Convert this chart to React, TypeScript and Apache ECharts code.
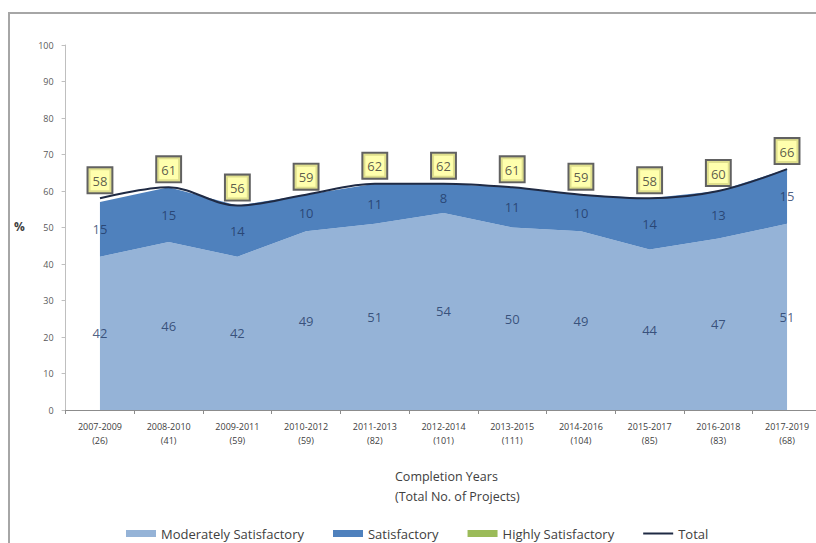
import React, { useEffect, useRef } from "react";
import * as echarts from "echarts";

// Completion-year windows and project counts (x axis)
const periods = [
  "2007-2009", "2008-2010", "2009-2011", "2010-2012", "2011-2013", "2012-2014",
  "2013-2015", "2014-2016", "2015-2017", "2016-2018", "2017-2019",
];
const projectCounts = [26, 41, 59, 59, 82, 101, 111, 104, 85, 83, 68];

// Share of projects (%) by rating
const moderatelySatisfactory = [42, 46, 42, 49, 51, 54, 50, 49, 44, 47, 51];
const satisfactory = [15, 15, 14, 10, 11, 8, 11, 10, 14, 13, 15];
const highlySatisfactory = [0, 0, 0, 0, 0, 0, 0, 0, 0, 0, 0];
const total = [58, 61, 56, 59, 62, 62, 61, 59, 58, 60, 66];

const yTicks = { min: 0, max: 100, interval: 10 };

const FONT = "'Open Sans', 'Liberation Sans', sans-serif";
const C_MS = "#95b3d7";
const C_S = "#4f81bd";
const C_HS = "#9bbb59";
const C_TOTAL = "#1f2a44";
const C_LABEL = "#1f3864";

export default function App() {
  const ref = useRef<HTMLDivElement>(null);

  useEffect(() => {
    if (!ref.current) return;
    const chart = echarts.init(ref.current, undefined, { renderer: "svg" });

    const categories = periods.map((p, i) => `${p}\n(${projectCounts[i]})`);

    // label anchors placed in the middle of each stacked band
    const msMid = moderatelySatisfactory.map((v, i) => ({ value: [i, v / 2], label: String(v) }));
    const sMid = satisfactory.map((v, i) => ({
      value: [i, moderatelySatisfactory[i] + v / 2],
      label: String(v),
    }));
    const totalPts = total.map((v, i) => ({ value: [i, v], label: String(v) }));

    const midLabel = {
      show: true,
      position: "inside",
      color: C_LABEL,
      fontSize: 13,
      fontFamily: FONT,
      formatter: (p: any) => p.data.label,
    };

    chart.setOption({
      animation: false,
      backgroundColor: "transparent",
      textStyle: { fontFamily: FONT },
      grid: { left: 65.6, right: 8.6, top: 45, bottom: 133, containLabel: false },
      legend: {
        left: 121,
        top: 522,
        itemWidth: 30,
        itemHeight: 7,
        itemGap: 29,
        textStyle: { fontSize: 13, color: "#404040", fontFamily: FONT },
        data: [
          { name: "Moderately Satisfactory", icon: "rect" },
          { name: "Satisfactory", icon: "rect" },
          { name: "Highly Satisfactory", icon: "rect" },
          { name: "Total", icon: "path://M0,0H30V2H0Z" },
        ],
      },
      xAxis: {
        type: "category",
        data: categories,
        boundaryGap: true,
        axisLine: { lineStyle: { color: "#8c8c8c", width: 1 } },
        axisTick: { show: true, length: 4, lineStyle: { color: "#8c8c8c" } },
        axisLabel: {
          color: "#404040",
          fontSize: 9,
          lineHeight: 14,
          margin: 9,
          interval: 0,
          fontFamily: FONT,
        },
        splitLine: { show: false },
      },
      yAxis: {
        type: "value",
        min: yTicks.min,
        max: yTicks.max,
        interval: yTicks.interval,
        axisLine: { show: true, lineStyle: { color: "#bfbfbf" } },
        axisTick: { show: true, length: 4, lineStyle: { color: "#bfbfbf" } },
        axisLabel: { color: "#595959", fontSize: 9, margin: 12, fontFamily: FONT },
        splitLine: { show: false },
      },
      graphic: [
        {
          type: "text",
          left: 14,
          top: 220,
          style: { text: "%", fontSize: 12, fontWeight: "bold", fill: "#404040", fontFamily: FONT },
        },
        {
          type: "text",
          left: 395,
          top: 466,
          style: {
            text: "Completion Years\n(Total No. of Projects)",
            align: "center",
            x: 65,
            fontSize: 12.5,
            lineHeight: 20,
            fill: "#404040",
            fontFamily: FONT,
          },
        },
      ],
      series: [
        {
          name: "Moderately Satisfactory",
          type: "line",
          stack: "rating",
          data: moderatelySatisfactory,
          symbol: "none",
          lineStyle: { width: 0 },
          areaStyle: { color: C_MS, opacity: 1 },
          itemStyle: { color: C_MS },
          z: 2,
        },
        {
          name: "Satisfactory",
          type: "line",
          stack: "rating",
          data: satisfactory,
          symbol: "none",
          lineStyle: { width: 0 },
          areaStyle: { color: C_S, opacity: 1 },
          itemStyle: { color: C_S },
          z: 2,
        },
        {
          name: "Highly Satisfactory",
          type: "line",
          stack: "rating",
          data: highlySatisfactory,
          symbol: "none",
          lineStyle: { width: 0 },
          areaStyle: { color: C_HS, opacity: 1 },
          itemStyle: { color: C_HS },
          z: 2,
        },
        {
          name: "Total",
          type: "line",
          data: total,
          smooth: 0.35,
          symbol: "none",
          lineStyle: { color: C_TOTAL, width: 2 },
          itemStyle: { color: C_TOTAL },
          z: 4,
        },
        {
          name: "totalLabels",
          type: "scatter",
          data: totalPts,
          symbolSize: 0,
          silent: true,
          z: 6,
          label: {
            show: true,
            position: "top",
            distance: 6,
            color: "#333333",
            fontSize: 13,
            fontFamily: FONT,
            backgroundColor: "#ffff99",
            borderColor: "#3a3a3a",
            borderWidth: 2,
            padding: [6, 4, 5, 4],
            formatter: (p: any) => p.data.label,
          },
        },
        {
          name: "msLabels",
          type: "scatter",
          data: msMid,
          symbolSize: 0,
          silent: true,
          label: midLabel,
          z: 5,
        },
        {
          name: "sLabels",
          type: "scatter",
          data: sMid,
          symbolSize: 0,
          silent: true,
          label: midLabel,
          z: 5,
        },
      ],
    });

    return () => chart.dispose();
  }, []);

  return (
    <div
      style={{
        position: "fixed",
        left: 0,
        top: 0,
        width: 816,
        height: 543,
        overflow: "hidden",
        background: "#ffffff",
      }}
    >
      <div
        style={{
          position: "absolute",
          left: 8,
          top: 12,
          width: 900,
          height: 600,
          borderLeft: "2px solid #a6a6a6",
          borderTop: "2px solid #a6a6a6",
          boxSizing: "border-box",
        }}
      />
      <div ref={ref} style={{ position: "absolute", left: 0, top: 0, width: 830, height: 543 }} />
    </div>
  );
}
